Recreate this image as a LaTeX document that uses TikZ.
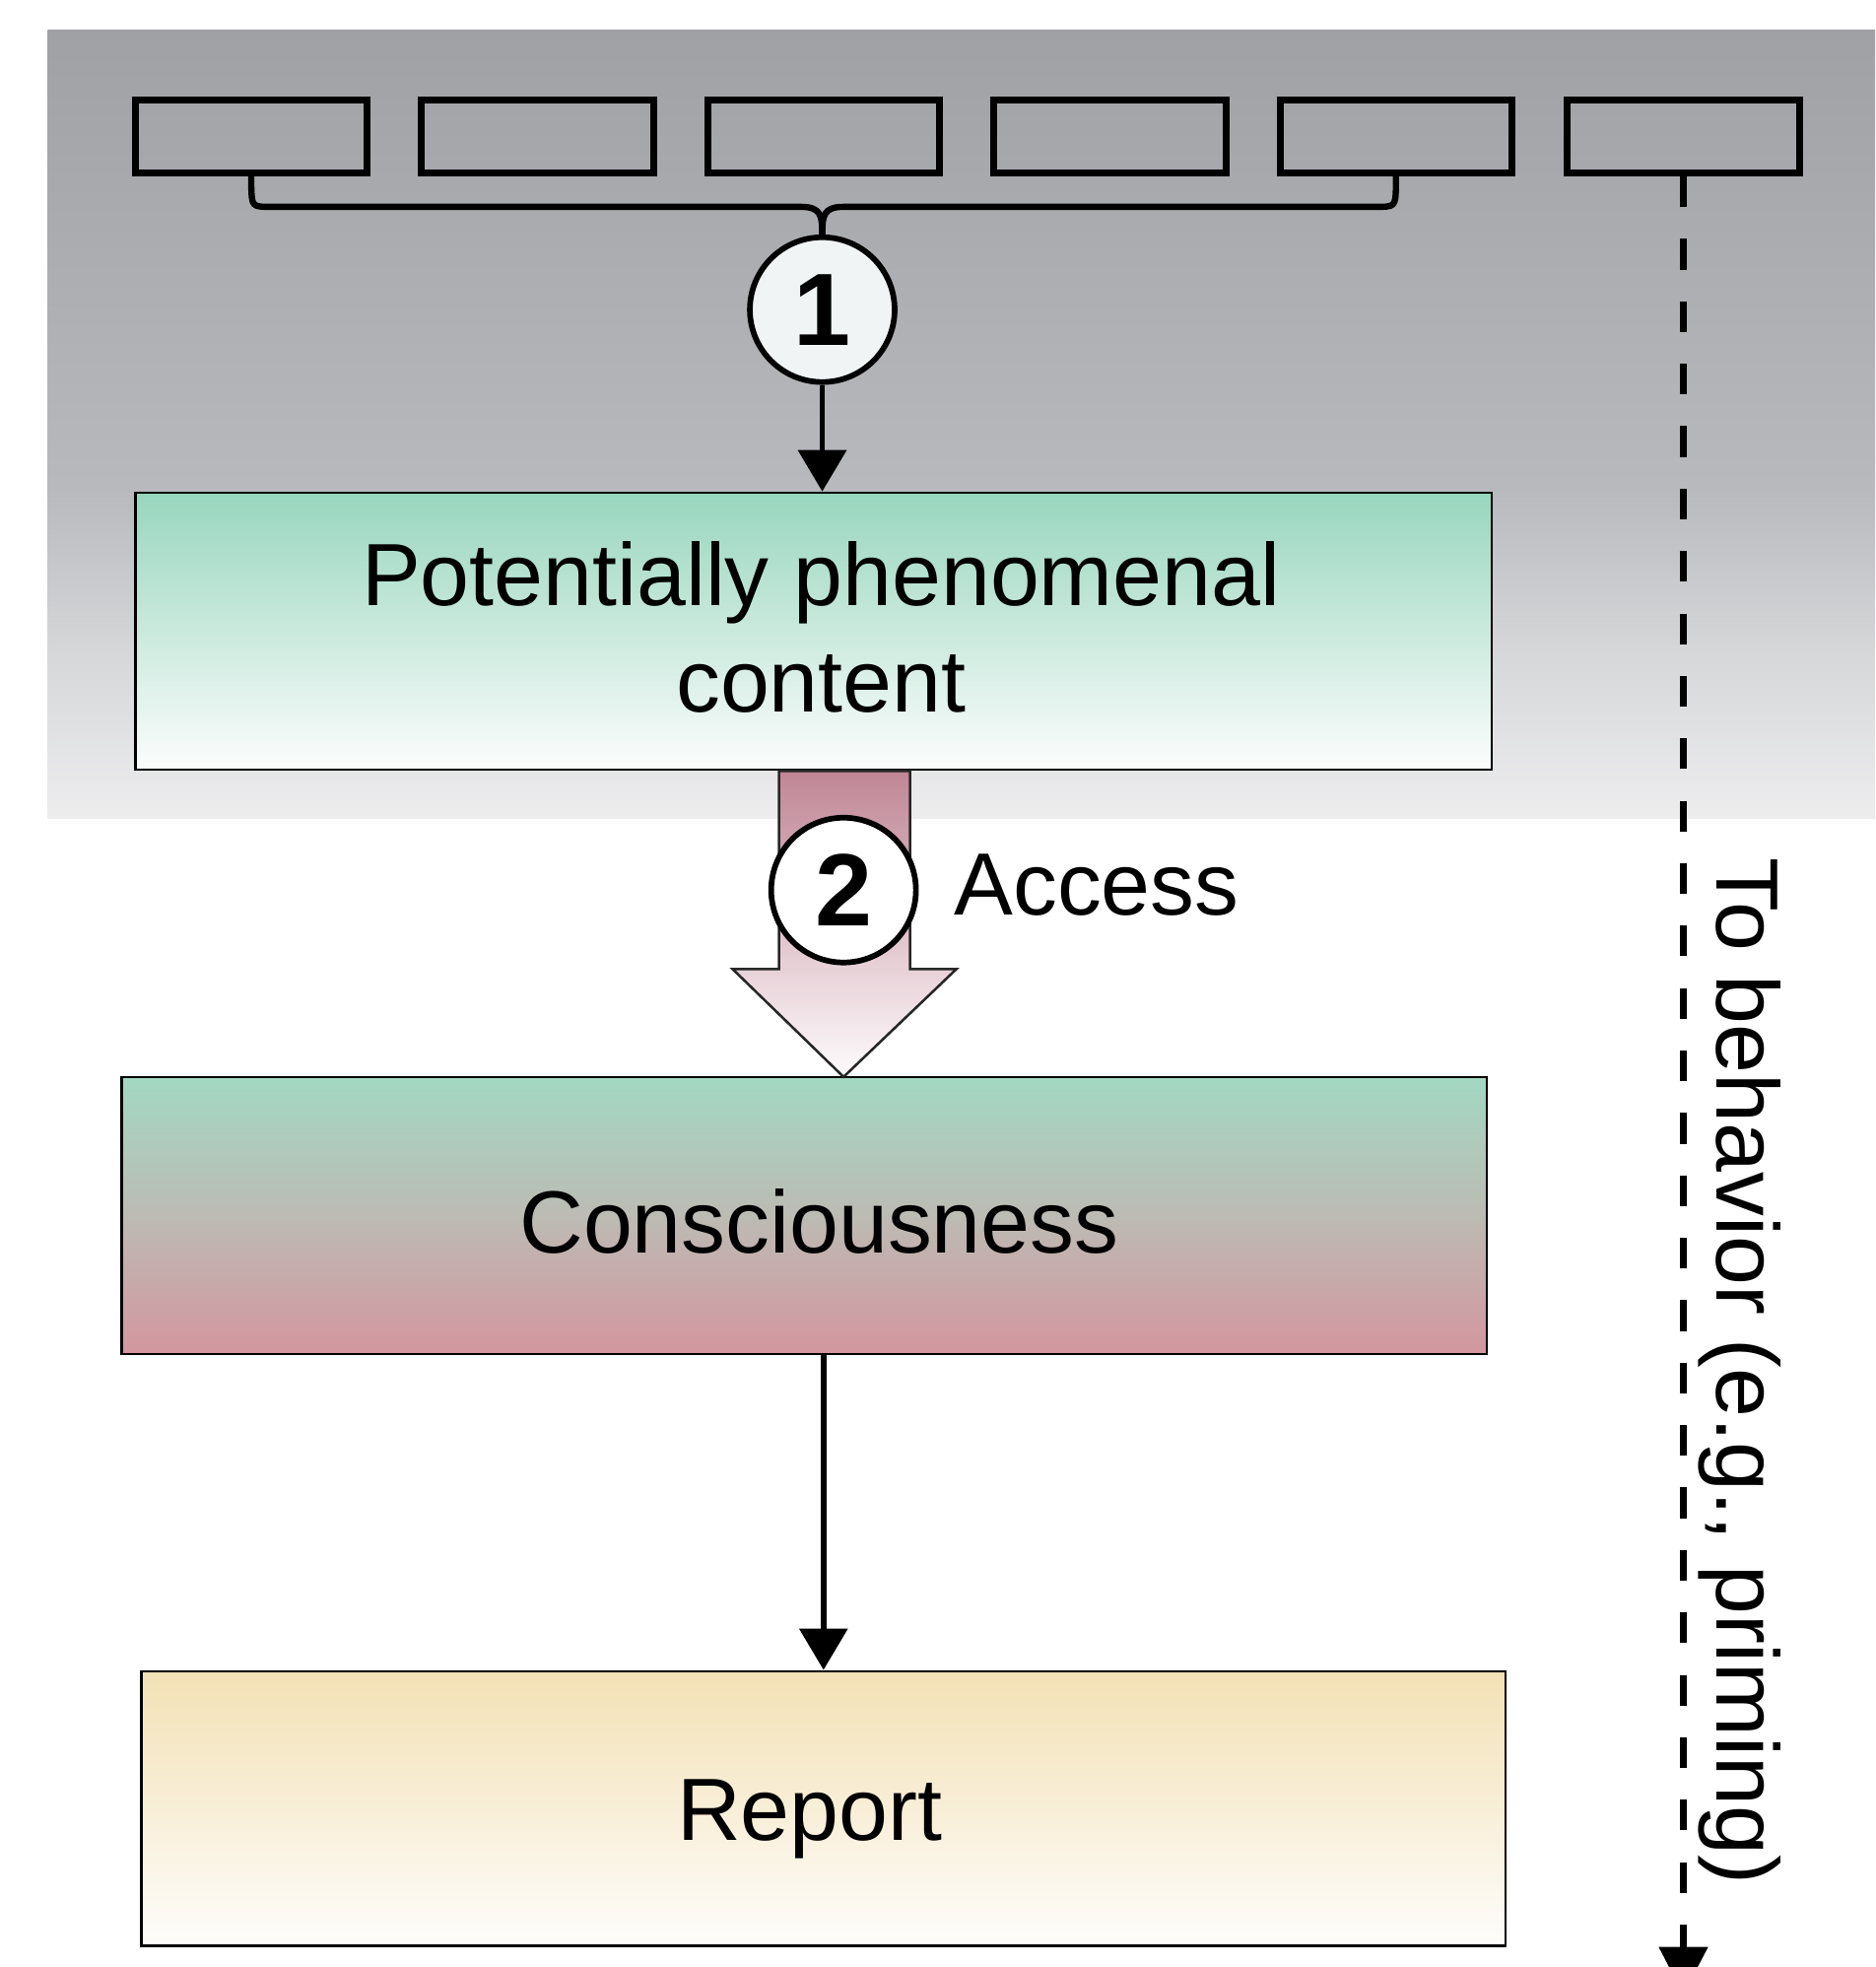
\documentclass[tikz,border=0pt]{standalone}
\usepackage{fontspec}
\setmainfont{Liberation Sans}
\usetikzlibrary{arrows.meta,shapes.geometric}
\definecolor{bgA}{RGB}{237,237,238}
\definecolor{bgB}{RGB}{214,215,217}
\definecolor{bgC}{RGB}{184,185,189}
\definecolor{bgD}{RGB}{160,161,165}
\definecolor{potTop}{RGB}{152,214,190}
\definecolor{potBot}{RGB}{252,253,253}
\definecolor{conTop}{RGB}{163,216,195}
\definecolor{conMid}{RGB}{188,187,180}
\definecolor{conBot}{RGB}{211,150,159}
\definecolor{repTop}{RGB}{243,225,181}
\definecolor{repBot}{RGB}{254,253,251}
\definecolor{accTop}{RGB}{192,134,150}
\definecolor{accBot}{RGB}{253,251,252}
\definecolor{circFill}{RGB}{240,244,245}
\pgfdeclareverticalshading{bgshade}{100bp}{color(0bp)=(bgA); color(25bp)=(bgA); color(35.5bp)=(bgB); color(46bp)=(bgC); color(75bp)=(bgD); color(100bp)=(bgD)}
\tikzset{
  smallbox/.style={draw, line width=5.5pt, minimum width=185pt, minimum height=58pt, inner sep=0pt},
  bigbox/.style={draw, line width=2pt, inner sep=0pt},
  numcirc/.style={circle, draw, line width=4.5pt, minimum size=115.5pt, inner sep=0pt,
    font=\fontsize{82}{82}\selectfont\bfseries},
  lbl/.style={font=\fontsize{70.5}{84.6}\selectfont, inner sep=0pt},
  bracestyle/.style={line width=5pt, line join=round},
  conn/.style={line width=4.5pt, -{Triangle[length=33pt,width=38pt]}},
  dashconn/.style={line width=5.5pt, dash pattern=on 24.5pt off 25.3pt, -{Triangle[length=38pt,width=38pt]}},
  accarrow/.style={draw=black!85, line width=2pt, top color=accTop, bottom color=accBot}
}
\begin{document}
\begin{tikzpicture}[x=1pt,y=-1pt]
\useasboundingbox (0,0) rectangle (1496,1569);
% background
\path[shading=bgshade] (38,24) rectangle (1496,653);
% top boxes
\foreach \i/\cx in {1/200.5,2/428.8,3/657.1,4/885.4,5/1113.7,6/1343}{
  \node[smallbox] (b\i) at (\cx,109) {};
}
% circle 1 and brace
\node[numcirc, fill=circFill] (c1) at (656,247) {1};
\draw[bracestyle] (b1.south) -- (200.5,149) .. controls (201,165) .. (217,165) -- (639,165) .. controls (655,165) and (656,172) .. (c1.north);
\draw[bracestyle] (b5.south) -- (1113.7,149) .. controls (1113.2,165) .. (1097,165) -- (673,165) .. controls (657,165) and (656,172) .. (c1.north);
% boxes
\node[bigbox, minimum width=1082pt, minimum height=221pt, top color=potTop, bottom color=potBot] (pot) at (649,503.5) {};
\node[bigbox, minimum width=1089pt, minimum height=221pt, top color=conTop, bottom color=conBot, middle color=conMid] (cons) at (641.5,969.5) {};
\node[bigbox, minimum width=1088pt, minimum height=219pt, top color=repTop, bottom color=repBot] (rep) at (657,1442.5) {};
% labels
\node[lbl, anchor=base] (pot1) at (655,483) {Potentially phenomenal};
\node[lbl, anchor=base] (pot2) at (655,568) {content};
\node[lbl, anchor=base] (constxt) at (653.5,999.5) {Consciousness};
\node[lbl, anchor=base] (reptxt) at (646,1468) {Report};
% arrow 1
\draw[conn] (c1.south) -- (c1.south |- pot.north);
% access arrow
\coordinate (acctip) at (673,859);
\path[accarrow] (621.5,615) -- (726,615) -- (726,773) -- (763,773) -- (acctip) -- (584.5,773) -- (621.5,773) -- cycle;
\node[numcirc, fill=white] (c2) at (673,710) {2};
\node[lbl, anchor=base west] (acc) at (761,730) {Access};
% consciousness -> report
\draw[conn] (cons.south -| 657,0) -- (rep.north);
% dashed to behavior
\coordinate (behav) at (1343,1591);
\draw[dashconn] (b6.south) -- (behav);
\node[lbl, rotate=-90, anchor=base west] (behtxt) at (1370,684) {To behavior (e.g., priming)};
\end{tikzpicture}
\end{document}
